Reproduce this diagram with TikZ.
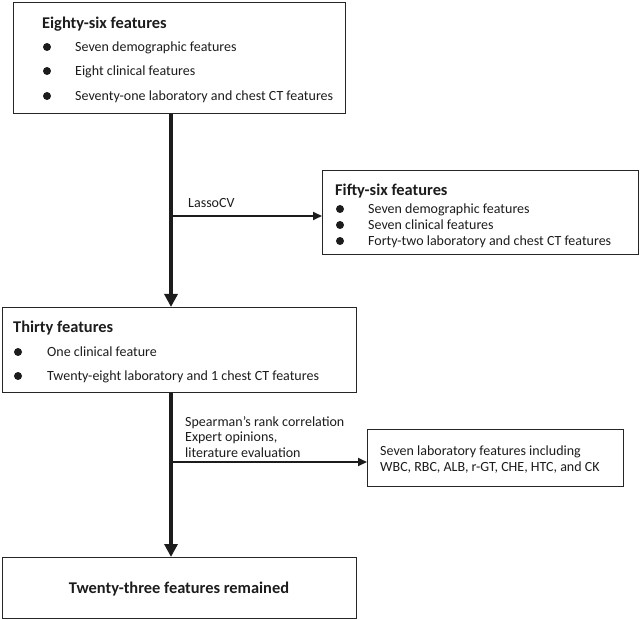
\documentclass[tikz,border=0pt]{standalone}
\usepackage{fontspec}
\setmainfont{Carlito}
\usepackage{xcolor}
\definecolor{flow-ink}{HTML}{1C1C1C}
\definecolor{flow-line}{HTML}{262626}
\usetikzlibrary{arrows.meta}

\begin{document}
\begin{tikzpicture}[x=1pt, y=-1pt,
    box/.style={draw=flow-line, line width=1.4pt, anchor=north west, inner sep=0pt},
    body/.style={anchor=base west, inner sep=0pt, text=flow-ink, font=\fontsize{14}{16}\selectfont},
    head/.style={anchor=base west, inner sep=0pt, text=flow-ink, font=\fontsize{16.4}{19}\selectfont\bfseries},
    trunk/.style={flow-ink, line width=4pt, -{Triangle[width=13pt,length=13pt]}},
    branch/.style={flow-ink, line width=2pt, -{Triangle[width=8pt,length=9pt]}}]

    % Canvas
    \useasboundingbox (0,0) rectangle (640,620);

    % Eighty-six features
    \node[box, minimum width=332pt, minimum height=111pt] (eighty) at (13,2) {};
    \node[head] (eighty-title) at (42,28.5) {Eighty-six features};
    \node[body] (eighty-demo) at (75,51.5) {Seven demographic features};
    \node[body] (eighty-clin) at (75,75.5) {Eight clinical features};
    \node[body] (eighty-lab) at (75,100.5) {Seventy-one laboratory and chest CT features};
    \foreach \y in {47,71,96} \fill[flow-ink] (47,\y) circle (4);

    % Fifty-six features
    \node[box, minimum width=316pt, minimum height=84pt] (fifty) at (322,170) {};
    \node[head] (fifty-title) at (335,195.5) {Fifty-six features};
    \node[body] (fifty-demo) at (368,213.5) {Seven demographic features};
    \node[body] (fifty-clin) at (368,229.5) {Seven clinical features};
    \node[body] (fifty-lab) at (368,245.5) {Forty-two laboratory and chest CT features};
    \foreach \y in {209,225,241} \fill[flow-ink] (340,\y) circle (4);

    % Thirty features
    \node[box, minimum width=354pt, minimum height=85pt] (thirty) at (2,307) {};
    \node[head] (thirty-title) at (13,332.5) {Thirty features};
    \node[body] (thirty-clin) at (47,356.5) {One clinical feature};
    \node[body] (thirty-lab) at (47,380.5) {Twenty-eight laboratory and 1 chest CT features};
    \foreach \y in {352,376} \fill[flow-ink] (18,\y) circle (4);

    % Seven laboratory features
    \node[box, minimum width=256pt, minimum height=57pt] (seven) at (367,429) {};
    \node[body] (seven-top) at (380,455.5) {Seven laboratory features including};
    \node[body] (seven-bot) at (380,471.5) {WBC, RBC, ALB, r-GT, CHE, HTC, and CK};

    % Twenty-three features
    \node[box, minimum width=354pt, minimum height=61pt] (final) at (2,557) {};
    \node[head, anchor=base] (final-text) at (179,593.5) {Twenty-three features remained};

    % Selection steps
    \node[body] (lasso) at (188,207.5) {LassoCV};
    \node[body] (spear) at (185,426.5) {Spearman’s rank correlation};
    \node[body] (expert) at (185,441.5) {Expert opinions,};
    \node[body] (liter) at (185,457.5) {literature evaluation};

    % Arrows
    \coordinate (axis) at (171,0);
    \coordinate (lasso-fork) at (171,216);
    \coordinate (spear-fork) at (171,462);
    \draw[trunk] (eighty.south -| axis) -- (thirty.north -| axis);
    \draw[trunk] (thirty.south -| axis) -- (final.north -| axis);
    \draw[branch] (lasso-fork) -- (fifty.west |- lasso-fork);
    \draw[branch] (spear-fork) -- (seven.west |- spear-fork);

\end{tikzpicture}
\end{document}
